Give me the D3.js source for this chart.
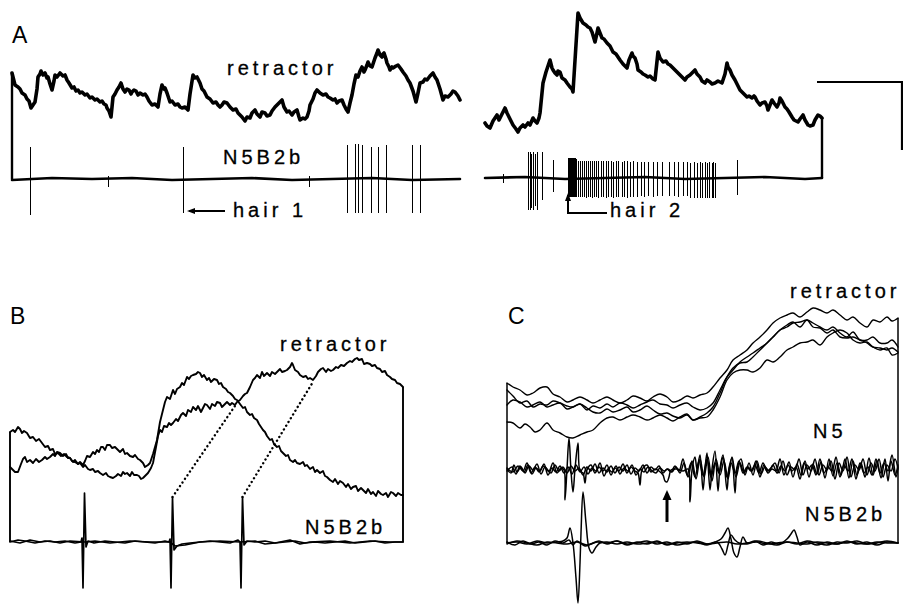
<!DOCTYPE html>
<html lang="en">
<head>
<meta charset="utf-8">
<title>Retractor and N5B2b recordings</title>
<script src="https://cdnjs.cloudflare.com/ajax/libs/d3/7.8.5/d3.min.js"></script>
<style>
  body { margin: 0; background: #fff; }
  svg { display: block; }
  .lbl { font-family: 'Liberation Sans', Arial, Helvetica, sans-serif; font-size: 20px; letter-spacing: 4px; fill: #000; stroke: #000; stroke-width: 0.3px; }
  .panel { font-family: 'Liberation Sans', Arial, Helvetica, sans-serif; font-size: 23px; fill: #000; }
  .trace { fill: none; stroke: #000; stroke-linejoin: round; stroke-linecap: round; }
</style>
</head>
<body>
<svg id="fig" width="903" height="605"></svg>
<script>
// ---- data: [time, voltage] pairs (time in samples from sweep start, voltage above N5B2b baseline)

// Panel A, first sweep (hair 1)
var retractorA1 = [[0,106],[2,98],[3,94],[6,92],[8,90],[10,86],[13,84],[15,80],[17,78],[19,71],[21,74],[23,77],[25,90],[26,102],[28,105],[29,108],[31,104],[33,106],[35,101],[36,102],[38,95],[40,89],[42,98],[43,104],[45,102],[48,106],[51,103],[53,104],[55,99],[57,96],[60,91],[62,92],[64,88],[66,89],[68,86],[70,87],[73,84],[75,85],[78,81],[80,82],[83,79],[85,80],[88,77],[90,78],[92,75],[94,74],[95,71],[97,68],[99,62],[100,72],[101,82],[103,85],[105,89],[107,92],[109,96],[111,90],[113,87],[115,90],[117,89],[119,85],[120,87],[122,89],[124,88],[126,84],[128,86],[131,84],[133,85],[135,82],[137,78],[140,74],[143,75],[146,72],[148,85],[150,94],[152,90],[153,91],[155,86],[158,77],[160,78],[163,74],[166,75],[168,72],[170,71],[173,72],[176,69],[178,85],[181,104],[183,101],[185,102],[187,98],[188,96],[190,90],[192,88],[194,84],[195,82],[198,80],[201,76],[204,77],[206,74],[208,72],[210,74],[212,77],[215,76],[218,72],[221,69],[224,70],[226,66],[228,64],[230,62],[233,58],[235,62],[238,61],[240,66],[243,69],[245,65],[248,62],[250,67],[253,66],[255,63],[258,64],[260,68],[263,72],[266,75],[268,77],[270,79],[272,72],[275,67],[277,68],[280,64],[282,67],[285,69],[287,62],[288,59],[291,61],[293,60],[295,62],[297,68],[298,74],[301,80],[303,86],[305,89],[308,86],[311,84],[314,85],[316,82],[318,81],[321,79],[323,80],[325,76],[327,78],[330,79],[332,74],[334,70],[336,67],[338,76],[340,84],[342,95],[344,104],[346,102],[348,108],[350,112],[352,107],[353,109],[355,114],[356,117],[358,113],[360,112],[362,118],[363,121],[365,126],[366,129],[368,124],[370,122],[371,125],[372,126],[374,120],[375,116],[377,112],[378,109],[380,112],[381,111],[384,113],[386,114],[389,110],[391,107],[394,103],[396,99],[398,96],[401,88],[404,77],[406,86],[408,96],[411,97],[413,100],[415,99],[418,103],[421,106],[423,102],[425,99],[428,90],[431,79],[433,83],[436,82],[439,85],[441,88],[443,87],[446,83],[448,79]];
var baseA1 = [[0,-1],[40,1],[80,0],[120,1],[160,-1],[200,0],[240,1],[280,-1],[320,0],[360,1],[400,-1],[448,0]];
// [time, top, bottom]
var spikesA1 = [[18,32,-36],[96,3,-8],[171,32,-34],[297,3,-8],[335,34,-34],[343,35,-34],[346,35,-34],[350,34,-34],[359,32,-34],[366,32,-34],[374,34,-34],[400,34,-34],[408,34,-34]];

// Panel A, second sweep (hair 2)
var retractorA2 = [[0,55],[2,52],[5,50],[8,57],[10,60],[12,63],[14,58],[15,60],[18,66],[20,70],[22,65],[23,63],[26,57],[28,53],[31,49],[33,46],[35,50],[38,53],[40,51],[43,55],[45,53],[48,60],[50,57],[52,55],[54,60],[55,65],[57,85],[58,95],[61,106],[63,112],[65,118],[67,110],[68,108],[70,105],[72,103],[73,107],[75,106],[77,100],[80,98],[82,95],[85,91],[87,89],[88,86],[93,165],[95,160],[98,155],[101,153],[103,151],[105,150],[107,146],[110,136],[112,145],[113,150],[115,145],[117,140],[119,139],[122,135],[125,132],[128,126],[131,124],[133,121],[135,118],[138,114],[140,112],[142,110],[144,118],[147,125],[148,122],[150,120],[152,114],[153,108],[156,106],[158,104],[160,103],[163,101],[165,102],[167,100],[168,99],[170,98],[173,126],[175,120],[178,116],[181,117],[183,114],[185,113],[188,110],[190,108],[193,105],[196,102],[198,100],[200,98],[202,101],[205,103],[207,105],[210,108],[212,104],[215,101],[217,97],[220,95],[222,98],[225,96],[227,94],[230,95],[233,97],[235,96],[237,95],[240,104],[242,115],[243,111],[245,108],[247,103],[250,98],[253,92],[255,88],[258,85],[260,83],[262,81],[264,82],[267,80],[269,82],[270,81],[272,77],[275,73],[277,75],[280,76],[282,72],[283,68],[285,73],[287,78],[289,75],[292,71],[294,75],[295,80],[297,77],[300,71],[302,69],[304,66],[307,61],[309,58],[311,57],[313,56],[315,59],[318,63],[320,58],[323,53],[325,52],[328,53],[330,58],[333,63],[335,62],[337,60]];
var baseA2 = [[0,0],[40,1],[80,-1],[120,0],[160,1],[200,-1],[240,0],[280,1],[320,-1],[337,0]];
var spikesA2 = [[18,4,-5],
  [43,26,-32],[45,26,-32],[46,24,-30],[48,26,-32],[50,24,-28],[52,26,-32],[57,26,-22],[68,18,-14],
  [83,20,-19],[84,20,-19],[85,20,-19],[86,20,-19],[87,20,-19],[88,20,-19],[89,20,-19],[90,20,-19],[91,19,-19],
  [93,17,-19],[95,17,-19],[97,17,-19],[99,17,-19],[101,17,-20],[103,17,-19],[105,17,-19],[107,17,-20],[109,17,-19],
  [111,17,-19],[113,17,-20],[116,17,-19],[118,17,-19],[121,17,-20],[123,17,-19],[126,17,-19],[128,16,-20],[131,17,-19],
  [133,17,-19],[137,16,-19],[139,17,-19],[142,17,-20],[145,16,-19],[148,17,-19],[152,16,-19],[156,16,-18],[159,16,-19],
  [163,16,-18],[168,16,-19],[172,16,-18],[177,16,-18],[184,16,-18],[189,16,-18],[193,16,-19],[198,16,-18],[202,16,-18],
  [205,15,-20],[209,16,-20],[212,15,-20],[215,16,-20],[217,15,-20],[220,16,-20],[222,15,-20],[224,16,-20],[227,15,-20],
  [228,16,-20],[230,15,-20],[252,18,-17]];

// Panel B, two superimposed sweeps
var retractorB1 = [[0,110],[3,112],[5,110],[8,115],[10,113],[12,109],[14,111],[17,109],[20,104],[23,105],[26,101],[29,103],[32,99],[35,95],[38,96],[40,92],[43,93],[45,88],[48,89],[51,86],[54,88],[57,85],[60,84],[62,81],[65,80],[68,78],[70,80],[73,77],[75,81],[77,86],[80,85],[83,90],[85,88],[87,92],[89,90],[91,95],[93,95],[95,92],[97,97],[100,97],[102,94],[105,95],[108,92],[110,90],[113,93],[115,88],[117,89],[120,86],[123,85],[125,87],[128,83],[130,82],[133,79],[135,75],[138,77],[140,79],[143,88],[145,95],[147,102],[150,120],[153,132],[155,140],[157,145],[160,143],[163,152],[165,148],[167,153],[170,155],[172,159],[174,157],[177,165],[179,163],[181,166],[183,167],[186,168],[188,170],[190,169],[192,165],[194,167],[197,162],[199,164],[201,160],[204,163],[207,162],[209,158],[211,159],[213,155],[216,153],[218,150],[220,149],[223,146],[225,143],[227,142],[230,138],[233,134],[235,135],[237,130],[240,127],[242,128],[244,124],[247,122],[249,118],[251,115],[253,112],[255,110],[257,106],[260,102],[262,103],[264,98],[267,95],[269,96],[271,91],[273,89],[276,86],[278,87],[280,82],[283,80],[285,82],[287,79],[290,78],[293,80],[295,76],[297,77],[300,73],[303,75],[305,70],[307,72],[310,69],[313,71],[315,66],[317,65],[320,62],[323,60],[325,63],[328,58],[330,61],[333,59],[336,55],[338,58],[341,53],[343,55],[346,56],[348,51],[351,54],[353,52],[356,49],[358,53],[361,48],[363,50],[366,46],[368,51],[371,48],[373,47],[376,49],[378,45],[381,50],[383,49],[386,46],[388,49],[391,47],[393,47]];
var retractorB2 = [[0,75],[3,72],[5,70],[8,70],[11,78],[13,83],[15,85],[17,80],[20,82],[23,79],[26,83],[29,80],[32,82],[35,85],[37,83],[40,85],[43,88],[45,86],[47,90],[50,89],[53,86],[56,88],[58,84],[60,84],[63,80],[65,82],[68,78],[70,79],[73,75],[75,77],[78,73],[80,72],[83,73],[85,70],[88,71],[90,69],[93,67],[96,69],[98,66],[100,65],[103,64],[106,66],[108,68],[111,66],[113,70],[115,68],[117,69],[120,66],[122,70],[124,67],[127,67],[129,66],[131,63],[133,64],[135,66],[138,69],[141,74],[143,79],[146,95],[148,106],[150,112],[152,110],[154,116],[157,115],[159,119],[161,117],[163,119],[166,123],[168,121],[171,127],[173,129],[176,126],[178,132],[181,130],[183,135],[186,132],[188,136],[191,130],[193,134],[195,138],[197,137],[200,133],[202,138],[205,136],[207,140],[210,139],[212,135],[215,138],[217,140],[220,137],[222,139],[225,137],[227,140],[230,142],[233,146],[235,148],[237,149],[240,155],[243,162],[245,164],[247,167],[250,164],[252,170],[254,166],[257,169],[260,166],[262,170],[265,168],[267,170],[270,173],[272,170],[275,171],[277,172],[280,175],[282,179],[283,177],[285,172],[288,170],[290,167],[293,165],[296,166],[298,163],[300,164],[303,162],[306,166],[308,170],[311,173],[313,174],[316,170],[318,173],[321,171],[323,172],[326,175],[328,174],[331,177],[334,176],[337,179],[340,181],[342,180],[345,183],[347,184],[349,182],[352,183],[354,178],[357,179],[360,178],[362,176],[365,177],[367,174],[370,173],[372,170],[375,171],[377,167],[380,165],[382,163],[385,162],[387,159],[390,158],[393,155]];
var n5b2bB1 = [[0,0],[8,2],[15,1],[25,-1],[35,1],[45,0],[55,1],[65,-1],[71,0],[72,4],[73,-46],[74.5,49],[76,-5],[78,1],[84,-1],[95,1],[105,0],[115,-1],[125,1],[135,0],[145,-1],[155,1],[159,0],[160,3],[161,-46],[162.5,45],[164,-8],[167,-4],[172,-2],[180,-1],[190,0],[200,1],[210,0],[220,-1],[228,2],[230,0],[231,-46],[232.5,45],[234,-3],[237,1],[245,0],[255,1],[265,-1],[275,0],[285,1],[295,-1],[305,0],[315,-1],[325,0],[335,1],[345,-1],[355,0],[365,1],[375,-1],[385,0],[393,0]];
var n5b2bB2 = [[0,1],[10,-1],[20,2],[30,0],[40,1],[50,-1],[60,1],[75,0],[85,1],[100,-1],[120,1],[140,0],[160,0],[165,-4],[175,-3],[190,0],[210,1],[230,0],[245,1],[255,-2],[265,-1],[280,2],[290,-2],[300,0],[320,1],[340,-1],[360,1],[380,0],[393,0]];
// dotted lines from spike to onset of retractor response
var dotsB = [[[162.5,45],[227,139]], [[232.5,45],[303,160]]];

// Panel C, superimposed sweeps
var retractorC1 = [[0,160],[6,156],[13,153],[20,148],[26,150],[33,155],[40,156],[46,149],[53,146],[60,141],[66,143],[73,146],[80,143],[86,140],[93,143],[100,146],[106,143],[113,140],[120,143],[126,147],[133,145],[140,142],[146,146],[153,149],[160,146],[166,141],[173,143],[180,147],[186,145],[193,148],[200,150],[206,156],[213,165],[220,173],[226,183],[233,188],[240,193],[246,200],[253,206],[260,213],[266,220],[273,225],[280,228],[286,230],[293,226],[300,231],[306,235],[313,233],[320,230],[326,233],[333,228],[340,223],[346,226],[353,220],[360,216],[366,223],[373,221],[380,226],[385,222],[391,225]];
var retractorC2 = [[0,153],[6,147],[13,140],[20,142],[26,136],[33,139],[40,138],[46,142],[53,140],[60,137],[66,136],[73,139],[80,133],[86,137],[93,135],[100,139],[106,136],[113,140],[120,138],[126,135],[133,138],[140,141],[146,143],[153,139],[160,138],[166,135],[173,138],[180,140],[186,136],[193,133],[200,135],[206,140],[213,153],[220,166],[226,173],[233,181],[240,186],[246,190],[253,195],[260,200],[266,206],[273,213],[280,216],[286,220],[293,221],[300,223],[306,220],[313,216],[320,213],[326,216],[333,210],[340,206],[346,211],[353,203],[360,203],[366,206],[373,200],[380,200],[385,203],[391,196]];
var retractorC3 = [[0,138],[6,143],[13,141],[20,136],[26,138],[33,141],[40,136],[46,138],[53,140],[60,134],[66,136],[73,139],[80,135],[86,131],[93,130],[100,134],[106,131],[113,133],[120,136],[126,131],[133,133],[140,137],[146,133],[153,129],[160,130],[166,127],[173,125],[180,128],[186,123],[193,126],[200,130],[206,136],[213,150],[220,166],[226,175],[233,180],[240,181],[246,186],[253,193],[260,200],[266,206],[273,213],[280,218],[286,221],[293,216],[300,223],[306,216],[313,215],[320,210],[326,213],[333,206],[340,205],[346,206],[353,203],[360,200],[366,196],[373,195],[380,193],[385,195],[391,191]];
var retractorC4 = [[0,121],[6,120],[13,115],[18,119],[23,116],[28,111],[33,113],[40,120],[46,113],[53,110],[60,106],[66,105],[73,108],[80,111],[86,113],[93,120],[100,125],[106,126],[113,123],[120,126],[126,128],[133,126],[140,123],[146,125],[153,128],[160,125],[166,122],[173,126],[180,129],[186,123],[193,125],[200,126],[206,133],[213,146],[220,163],[226,170],[233,173],[240,173],[246,171],[253,175],[260,183],[266,181],[273,186],[280,193],[286,196],[293,200],[300,201],[306,203],[313,198],[320,206],[326,210],[333,213],[340,210],[346,203],[353,200],[360,201],[366,196],[373,193],[380,195],[385,188],[391,190]];
var n5C1 = [[0,74],[4,70],[7,78],[10,71],[14,76],[18,70],[22,77],[26,73],[30,79],[34,69],[38,76],[42,72],[46,80],[50,70],[54,75],[57,73],[58,43],[60,74],[62,105],[64,72],[66,51],[68,74],[71,100],[73,72],[76,70],[78,60],[80,73],[84,78],[88,70],[92,76],[96,72],[100,78],[104,68],[108,75],[112,72],[116,79],[120,70],[124,76],[128,72],[131,70],[133,58],[135,73],[140,78],[144,71],[148,74],[152,72],[156,68],[158,62],[160,61],[162,66],[164,73],[170,74],[176,72],[181,74],[183,41],[185,73],[188,86],[190,74],[193,88],[196,53],[198,74],[200,90],[203,53],[205,74],[208,92],[211,52],[213,75],[216,88],[220,53],[222,75],[225,85],[228,50],[230,74],[234,84],[238,68],[242,80],[246,68],[250,82],[254,69],[258,76],[262,72],[266,78],[270,70],[274,77],[278,72],[282,81],[286,66],[290,79],[294,68],[298,82],[302,66],[306,79],[310,69],[314,81],[318,65],[322,84],[326,67],[330,80],[334,68],[338,84],[342,65],[346,82],[350,68],[354,80],[358,66],[362,85],[366,68],[370,82],[374,65],[378,84],[381,62],[384,82],[388,68],[391,78]];
var n5C2 = [[0,72],[5,76],[9,69],[13,77],[17,71],[21,78],[25,69],[29,75],[33,72],[37,79],[41,68],[45,75],[49,71],[53,77],[57,70],[61,76],[65,69],[69,78],[73,71],[77,76],[81,69],[85,75],[89,72],[93,80],[97,67],[101,74],[105,71],[109,77],[113,69],[117,75],[121,72],[125,78],[129,68],[133,74],[137,71],[141,76],[145,72],[149,70],[153,75],[157,72],[161,74],[165,71],[169,76],[173,70],[177,80],[181,66],[185,82],[189,64],[193,84],[197,66],[201,86],[205,62],[209,84],[213,68],[217,82],[221,64],[225,86],[229,66],[233,80],[237,70],[241,76],[245,72],[249,82],[253,66],[257,78],[261,70],[265,74],[269,72],[273,84],[277,68],[281,78],[285,72],[289,76],[293,64],[297,80],[301,74],[305,78],[309,68],[313,84],[317,70],[321,76],[325,72],[329,86],[333,66],[337,78],[341,72],[345,84],[349,64],[353,80],[357,70],[361,76],[365,68],[369,84],[373,70],[377,80],[381,72],[385,88],[389,66],[391,76]];
var n5C3 = [[0,75],[6,71],[11,77],[16,72],[20,80],[24,70],[28,76],[32,71],[36,77],[40,73],[44,70],[48,78],[52,72],[56,76],[60,70],[64,77],[68,72],[72,75],[76,68],[80,76],[84,72],[88,79],[92,70],[96,75],[100,71],[104,77],[108,70],[112,76],[116,72],[120,78],[124,69],[128,75],[132,72],[136,78],[140,70],[144,76],[148,73],[152,77],[156,70],[160,74],[164,71],[168,77],[172,72],[176,84],[180,68],[184,80],[188,66],[192,82],[196,68],[200,84],[204,66],[208,80],[212,70],[216,86],[220,66],[224,80],[228,70],[232,82],[236,70],[240,76],[244,72],[248,78],[252,70],[256,80],[260,72],[264,75],[268,80],[272,70],[276,82],[280,68],[284,76],[288,73],[292,84],[296,68],[300,78],[304,72],[308,84],[312,68],[316,78],[320,73],[324,82],[328,64],[332,80],[336,72],[340,86],[344,66],[348,78],[352,73],[356,84],[360,68],[364,80],[368,72],[372,84],[376,66],[380,78],[384,72],[388,84],[391,74]];
var n5b2bC1 = [[0,0],[10,1],[20,-1],[30,2],[40,0],[50,1],[56,2],[60,5],[63,15],[66,0],[69,-35],[71,-60],[73,-20],[74,10],[76,51],[79,20],[82,-5],[85,-10],[89,-4],[93,0],[100,1],[110,-1],[120,1],[130,-1],[140,0],[150,1],[160,-1],[170,0],[180,1],[190,0],[200,-1],[210,0],[220,1],[230,-1],[240,0],[250,1],[260,-1],[270,0],[280,1],[290,0],[300,-1],[310,1],[320,0],[330,-1],[340,1],[350,0],[360,-1],[370,1],[380,0],[391,0]];
var n5b2bC2 = [[0,1],[8,-2],[16,2],[24,-1],[32,1],[40,-2],[48,2],[56,0],[62,3],[66,-2],[70,2],[78,-3],[84,-1],[92,2],[100,-1],[110,2],[120,-2],[130,1],[140,-1],[150,2],[160,-2],[170,1],[180,-1],[190,2],[200,-1],[208,1],[214,4],[218,10],[221,15],[224,4],[227,-10],[230,-14],[233,-4],[236,6],[240,0],[248,2],[256,-2],[264,1],[272,-1],[280,4],[284,9],[287,13],[290,6],[293,-2],[300,1],[310,-2],[320,1],[330,-1],[340,2],[350,-1],[360,1],[370,-2],[380,1],[391,0]];
var n5b2bC3 = [[0,-1],[10,2],[20,0],[30,-2],[40,1],[50,0],[60,-1],[70,1],[80,-2],[90,1],[100,0],[110,2],[120,-1],[130,0],[140,2],[150,-1],[160,1],[170,-2],[180,0],[190,1],[200,-2],[210,1],[215,-6],[218,-12],[221,-2],[224,8],[228,3],[232,0],[240,-1],[250,2],[260,0],[270,-2],[280,1],[290,-1],[300,2],[310,0],[320,-2],[330,1],[340,0],[350,2],[360,-1],[370,0],[380,2],[391,0]];

// ---- scales, one pair per sweep
var xA1 = d3.scaleLinear().domain([0, 448]).range([12, 460]);
var yA1 = d3.scaleLinear().domain([0, 179]).range([179, 0]);
var xA2 = d3.scaleLinear().domain([0, 337]).range([485, 822]);
var yA2 = d3.scaleLinear().domain([0, 178]).range([178, 0]);
var xB = d3.scaleLinear().domain([0, 393]).range([10, 403]);
var yB = d3.scaleLinear().domain([0, 252]).range([542, 290]);
var xC = d3.scaleLinear().domain([0, 391]).range([507, 898]);
var yC = d3.scaleLinear().domain([0, 253]).range([543, 290]);

var svg = d3.select("#fig");

function trace(data, x, y, w, curve) {
  var line = d3.line().x(function(d) { return x(d[0]); }).y(function(d) { return y(d[1]); })
    .curve(curve || d3.curveLinear);
  return svg.append("path").datum(data)
    .attr("class", "trace")
    .attr("stroke-width", w)
    .attr("d", line);
}

// vertical line joining two traces at one time point
function joiner(t, v1, v2, x, y, w) {
  svg.append("line")
    .attr("x1", x(t)).attr("x2", x(t))
    .attr("y1", y(v1)).attr("y2", y(v2))
    .attr("stroke", "#000").attr("stroke-width", w);
}

function spikes(data, x, y) {
  svg.append("g").attr("shape-rendering", "crispEdges")
    .selectAll("line").data(data).enter().append("line")
    .attr("x1", function(d) { return Math.round(x(d[0])) + 0.5; })
    .attr("x2", function(d) { return Math.round(x(d[0])) + 0.5; })
    .attr("y1", function(d) { return y(d[1]); })
    .attr("y2", function(d) { return y(d[2]); })
    .attr("stroke", "#000")
    .attr("stroke-width", 1);
}

function text(x, y, s, cls) {
  svg.append("text").attr("x", x).attr("y", y).attr("class", cls).text(s);
}

// arrowhead: tip at (px,py), pointing in direction (dx,dy)
function head(px, py, dx, dy, len, half) {
  len = len || 8; half = half || 3;
  var bx = px - dx * len, by = py - dy * len;
  svg.append("path")
    .attr("d", "M" + px + "," + py + "L" + (bx - dy * half) + "," + (by + dx * half) +
               "L" + (bx + dy * half) + "," + (by - dx * half) + "Z")
    .attr("fill", "#000");
}

// ---- panel A
spikes(spikesA1, xA1, yA1);
trace(baseA1, xA1, yA1, 2.6);
trace(retractorA1, xA1, yA1, 3.6).attr("stroke-linejoin", "miter");
joiner(0, retractorA1[0][1], 0, xA1, yA1, 2.4);

spikes(spikesA2, xA2, yA2);
trace(baseA2, xA2, yA2, 2.6);
trace(retractorA2, xA2, yA2, 3.6).attr("stroke-linejoin", "miter");
joiner(337, retractorA2[retractorA2.length - 1][1], 0, xA2, yA2, 2.4);

// hair 1 arrow
svg.append("line").attr("x1", xA1(177)).attr("x2", xA1(213))
  .attr("y1", yA1(-32)).attr("y2", yA1(-32)).attr("stroke", "#000").attr("stroke-width", 2);
head(xA1(175), yA1(-32), -1, 0);
// hair 2 arrow
svg.append("path")
  .attr("d", "M" + xA2(83) + "," + yA2(-17) + "V" + yA2(-35) + "H" + xA2(122))
  .attr("fill", "none").attr("stroke", "#000").attr("stroke-width", 2);
head(xA2(83), yA2(-15), 0, -1);

// scale bar
svg.append("path")
  .attr("d", "M" + xA2(332) + "," + yA2(96) + "H" + xA2(417) + "V" + yA2(28))
  .attr("fill", "none").attr("stroke", "#000").attr("stroke-width", 2.2);

text(12, 43, "A", "panel");
text(227, 75, "retractor", "lbl");
text(223, 164, "N5B2b", "lbl");
text(233, 217, "hair 1", "lbl");
text(610, 217, "hair 2", "lbl");

// ---- panel B
trace(n5b2bB2, xB, yB, 1.7);
trace(n5b2bB1, xB, yB, 1.7);
trace(retractorB1, xB, yB, 1.9);
trace(retractorB2, xB, yB, 1.9);
joiner(0, retractorB1[0][1], 0, xB, yB, 1.9);
joiner(393, retractorB2[retractorB2.length - 1][1], 0, xB, yB, 1.9);
dotsB.forEach(function(seg) {
  svg.append("line")
    .attr("x1", xB(seg[0][0])).attr("y1", yB(seg[0][1]))
    .attr("x2", xB(seg[1][0])).attr("y2", yB(seg[1][1]))
    .attr("stroke", "#000").attr("stroke-width", 2.4)
    .attr("stroke-linecap", "round").attr("stroke-dasharray", "0.1,4.3");
});
text(10, 324, "B", "panel");
text(280, 351, "retractor", "lbl");
text(305, 534, "N5B2b", "lbl");

// ---- panel C
var smooth = d3.curveCatmullRom.alpha(0.5);
[retractorC1, retractorC2, retractorC3, retractorC4].forEach(function(d) { trace(d, xC, yC, 1.4, smooth); });
[n5C1, n5C2, n5C3].forEach(function(d) { trace(d, xC, yC, 1.5, smooth); });
[n5b2bC1, n5b2bC2, n5b2bC3].forEach(function(d) { trace(d, xC, yC, 1.5, smooth); });
joiner(0, retractorC1[0][1], 0, xC, yC, 1.5);
joiner(391, retractorC1[retractorC1.length - 1][1], 0, xC, yC, 1.5);
// arrow under N5 trace
svg.append("line").attr("x1", xC(160)).attr("x2", xC(160))
  .attr("y1", yC(21)).attr("y2", yC(45)).attr("stroke", "#000").attr("stroke-width", 3);
head(xC(160), yC(53), 0, -1, 10, 4.5);

text(508, 324, "C", "panel");
text(790, 298, "retractor", "lbl");
text(813, 438, "N5", "lbl");
text(805, 521, "N5B2b", "lbl");
</script>
</body>
</html>
